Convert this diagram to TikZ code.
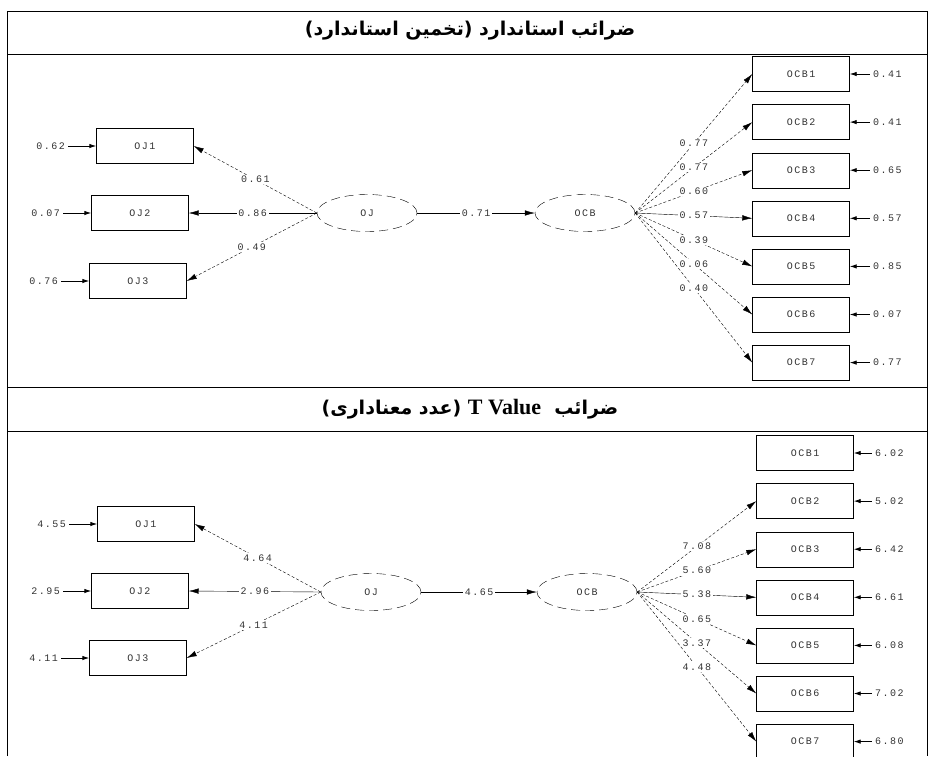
\documentclass[tikz,border=0pt]{standalone}
\usepackage{fontspec}
\setmainfont{Liberation Serif}
\newfontfamily\lisrel[LetterSpace=15]{Liberation Mono}
\newfontfamily\farsi[Script=Arabic]{DejaVu Sans}
\TeXXeTstate=1
\usetikzlibrary{positioning,shapes.geometric,arrows.meta}

\begin{document}
\begin{tikzpicture}[
  x=1pt, y=-1pt,
  every node/.style={font=\lisrel\fontsize{10}{12}\selectfont, text=black!80},
  obs/.style={draw, rectangle, minimum width=97pt, minimum height=35pt},
  lat/.style={draw, ellipse, dash pattern=on 9pt off 5pt, minimum width=100pt, minimum height=37pt},
  val/.style={fill=white, inner sep=1.5pt},
  load/.style={-{Latex[length=10pt,width=5.5pt]}, dash pattern=on 3pt off 2pt},
  fixd/.style={-{Latex[length=10pt,width=5.5pt]}},
  err/.style={-{Latex[length=7pt,width=4.5pt]}, line width=0.9pt},
  head/.style={text=black, font=\farsi\bfseries\fontsize{19}{22}\selectfont}
  ]
  \useasboundingbox (0,0) rectangle (930,756);

  % frame and headings
  \draw[line width=0.9pt] (7,756) -- (7,11) -- (927,11) -- (927,756);
  \draw[line width=0.9pt] (7,54) -- (927,54);
  \draw[line width=0.9pt] (7,387) -- (927,387);
  \draw[line width=0.9pt] (7,431) -- (927,431);
  \node[head] (h01) at (470,31) {\beginR ضرائب استاندارد (تخمین استاندارد)\endR};
  \node[head] (h02) at (470,409) {\beginR ضرائب\ \
    {\rmfamily\bfseries\fontsize{22}{24}\selectfont\beginL T Value\endL} (عدد معناداری)\endR};

  % standardized estimates
  \node[lat] (oj)  at (367,213) {OJ};
  \node[lat] (ocb) at (585,213) {OCB};

  \node[obs] (oj1) at (145,146) {OJ1};
  \node[obs] (oj2) at (140,213) {OJ2};
  \node[obs] (oj3) at (138,281) {OJ3};

  \node[obs] (ocb1) at (801,74) {OCB1};
  \node[obs, below=12.7pt of ocb1] (ocb2) {OCB2};
  \node[obs, below=12.7pt of ocb2] (ocb3) {OCB3};
  \node[obs, below=12.7pt of ocb3] (ocb4) {OCB4};
  \node[obs, below=12.7pt of ocb4] (ocb5) {OCB5};
  \node[obs, below=12.7pt of ocb5] (ocb6) {OCB6};
  \node[obs, below=12.7pt of ocb6] (ocb7) {OCB7};

  \node[left=28pt of oj1] (e01) {0.62};
  \node[left=28pt of oj2] (e02) {0.07};
  \node[left=28pt of oj3] (e03) {0.76};
  \node[right=20pt of ocb1] (d01) {0.41};
  \node[right=20pt of ocb2] (d02) {0.41};
  \node[right=20pt of ocb3] (d03) {0.65};
  \node[right=20pt of ocb4] (d04) {0.57};
  \node[right=20pt of ocb5] (d05) {0.85};
  \node[right=20pt of ocb6] (d06) {0.07};
  \node[right=20pt of ocb7] (d07) {0.77};

  \draw[err] (e01) -- (oj1);
  \draw[err] (e02) -- (oj2);
  \draw[err] (e03) -- (oj3);
  \draw[err] (d01) -- (ocb1);
  \draw[err] (d02) -- (ocb2);
  \draw[err] (d03) -- (ocb3);
  \draw[err] (d04) -- (ocb4);
  \draw[err] (d05) -- (ocb5);
  \draw[err] (d06) -- (ocb6);
  \draw[err] (d07) -- (ocb7);

  \draw[load] (oj.west) -- node[val] {0.61} (oj1.east);
  \draw[fixd] (oj.west) -- node[val] {0.86} (oj2.east);
  \draw[load] (oj.west) -- node[val] {0.49} (oj3.east);
  \draw[fixd] (oj) -- node[val] {0.71} (ocb);
  \draw[load] (ocb.east) -- node[val] {0.77} (ocb1.west);
  \draw[load] (ocb.east) -- node[val] {0.77} (ocb2.west);
  \draw[load] (ocb.east) -- node[val] {0.60} (ocb3.west);
  \draw[fixd] (ocb.east) -- node[val] {0.57} (ocb4.west);
  \draw[load] (ocb.east) -- node[val] {0.39} (ocb5.west);
  \draw[load] (ocb.east) -- node[val] {0.06} (ocb6.west);
  \draw[load] (ocb.east) -- node[val] {0.40} (ocb7.west);

  % t values
  \node[lat] (toj)  at (371,592) {OJ};
  \node[lat] (tocb) at (587,592) {OCB};

  \node[obs] (toj1) at (146,524) {OJ1};
  \node[obs] (toj2) at (140,591) {OJ2};
  \node[obs] (toj3) at (138,658) {OJ3};

  \node[obs] (tocb1) at (805,453) {OCB1};
  \node[obs, below=12.7pt of tocb1] (tocb2) {OCB2};
  \node[obs, below=12.7pt of tocb2] (tocb3) {OCB3};
  \node[obs, below=12.7pt of tocb3] (tocb4) {OCB4};
  \node[obs, below=12.7pt of tocb4] (tocb5) {OCB5};
  \node[obs, below=12.7pt of tocb5] (tocb6) {OCB6};
  \node[obs, below=12.7pt of tocb6] (tocb7) {OCB7};

  \node[left=28pt of toj1] (te01) {4.55};
  \node[left=28pt of toj2] (te02) {2.95};
  \node[left=28pt of toj3] (te03) {4.11};
  \node[right=18pt of tocb1] (td01) {6.02};
  \node[right=18pt of tocb2] (td02) {5.02};
  \node[right=18pt of tocb3] (td03) {6.42};
  \node[right=18pt of tocb4] (td04) {6.61};
  \node[right=18pt of tocb5] (td05) {6.08};
  \node[right=18pt of tocb6] (td06) {7.02};
  \node[right=18pt of tocb7] (td07) {6.80};

  \draw[err] (te01) -- (toj1);
  \draw[err] (te02) -- (toj2);
  \draw[err] (te03) -- (toj3);
  \draw[err] (td01) -- (tocb1);
  \draw[err] (td02) -- (tocb2);
  \draw[err] (td03) -- (tocb3);
  \draw[err] (td04) -- (tocb4);
  \draw[err] (td05) -- (tocb5);
  \draw[err] (td06) -- (tocb6);
  \draw[err] (td07) -- (tocb7);

  \draw[load] (toj.west) -- node[val] {4.64} (toj1.east);
  \draw[fixd] (toj.west) -- node[val] {2.96} (toj2.east);
  \draw[load] (toj.west) -- node[val] {4.11} (toj3.east);
  \draw[fixd] (toj) -- node[val] {4.65} (tocb);
  \draw[load] (tocb.east) -- node[val] {7.08} (tocb2.west);
  \draw[load] (tocb.east) -- node[val] {5.60} (tocb3.west);
  \draw[fixd] (tocb.east) -- node[val] {5.38} (tocb4.west);
  \draw[load] (tocb.east) -- node[val] {0.65} (tocb5.west);
  \draw[load] (tocb.east) -- node[val] {3.37} (tocb6.west);
  \draw[load] (tocb.east) -- node[val] {4.48} (tocb7.west);
\end{tikzpicture}
\end{document}
